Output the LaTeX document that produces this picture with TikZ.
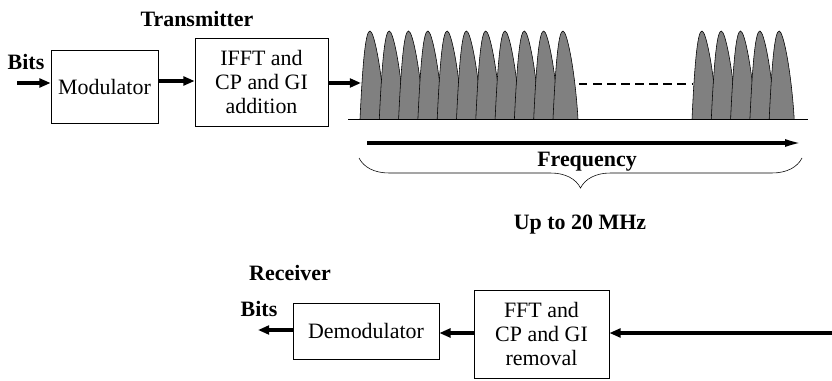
\documentclass[tikz,border=0pt]{standalone}
\usepackage{fontspec}
\setmainfont{Liberation Serif}
\usetikzlibrary{arrows.meta,decorations.pathreplacing}
\begin{document}
\begin{tikzpicture}[
	x=0.025cm, y=-0.025cm,
	every node/.style={font=\fontsize{15.6}{17.4}\selectfont},
	block/.style={draw, thin, align=center, inner sep=0pt},
	heading/.style={font=\fontsize{15.6}{17.4}\selectfont\bfseries},
	thickarrow/.style={line width=2.2pt, -{Triangle[length=0.28cm, width=0.22cm]}},
	lobe/.style={fill=lobegray, draw=black, thin}
	]
		\definecolor{lobegray}{RGB}{128, 128, 128}
	\useasboundingbox (0, 0) rectangle (832, 380);

	% transmitter
	\node [heading] (tx) at (197, 19) {Transmitter};
	\node [heading] (bitsin) at (26, 62) {Bits};
	\node [block, minimum width=2.68cm, minimum height=1.83cm] (mod) at (104.5, 86.5) {Modulator};
	\node [block, minimum width=3.33cm, minimum height=2.2cm] (ifft) at (261.5, 82) {IFFT and\\ CP and GI\\ addition};
	\coordinate (src) at (17, 83);
	\coordinate (spec) at (361, 83);
	\draw [thickarrow] (src) -- (src -| mod.west);
	\draw [thickarrow] (mod.east |- 0, 81) -- (ifft.west |- 0, 81);
	\draw [thickarrow] (ifft.east |- spec) -- (spec);

	% spectrum
	\draw [thin] (348, 119) -- (808, 119);
	\foreach \i in {0,...,10}
		\filldraw [lobe] ({360+19.3*\i}, 119) .. controls ({363+19.3*\i}, 55) and ({366+19.3*\i}, 31) .. ({370+19.3*\i}, 31)
			.. controls ({374+19.3*\i}, 31) and ({382+19.3*\i}, 70) .. ({385+19.3*\i}, 119);
	\foreach \i in {0,...,4}
		\filldraw [lobe] ({692+19.3*\i}, 119) .. controls ({695+19.3*\i}, 55) and ({698+19.3*\i}, 31) .. ({702+19.3*\i}, 31)
			.. controls ({706+19.3*\i}, 31) and ({714+19.3*\i}, 70) .. ({717+19.3*\i}, 119);
	\draw [line width=1pt, dash pattern=on 6pt off 4pt] (579, 84) -- (692, 84);

	% frequency axis
	\coordinate (f0) at (367, 143);
	\coordinate (f1) at (803, 143);
	\draw [line width=2.2pt, -{Latex[length=0.45cm, width=0.2cm]}] (f0) -- (f1);
	\node [heading] (freq) at (587, 162) {Frequency};
	\draw [thin, decorate, decoration={brace, amplitude=0.75cm, mirror}] (359, 158) -- (802, 158);
	\node [heading] (band) at (580, 225) {Up to 20 MHz};

	% receiver
	\node [heading] (rx) at (290, 273) {Receiver};
	\node [heading] (bitsout) at (259, 309) {Bits};
	\node [block, minimum width=3.65cm, minimum height=1.4cm] (demod) at (366, 331) {Demodulator};
	\node [block, minimum width=3.38cm, minimum height=2.2cm] (fft) at (541.5, 334) {FFT and\\ CP and GI\\ removal};
	\coordinate (rxin) at (832, 333);
	\coordinate (sink) at (258, 330);
	\draw [thickarrow] (rxin) -- (rxin -| fft.east);
	\draw [thickarrow] (fft.west |- 0, 333) -- (demod.east |- 0, 333);
	\draw [thickarrow] (demod.west |- sink) -- (sink);
\end{tikzpicture}
\end{document}
